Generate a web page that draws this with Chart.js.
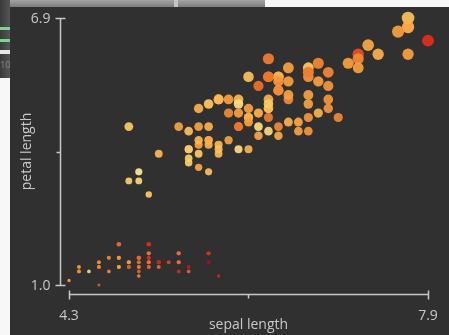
<!DOCTYPE html>
<html>
<head>
    <script src="https://cdn.jsdelivr.net/npm/chart.js@4/dist/chart.umd.min.js"></script>
    <title>Iris: sepal length vs petal length</title>
    <style>
        body { margin: 0; background: #f7f7f7; width: 449px; height: 335px; overflow: hidden; position: relative; font-family: "Open Sans", sans-serif; }
        .topstrip { position: absolute; left: 0; top: 0; width: 265px; height: 7px; background: linear-gradient(#a4a4a4, #7c7c7c); }
        .topstrip .mark { position: absolute; left: 174px; top: 0; width: 4px; height: 7px; background: #c4c4c4; }
        .sidestrip { position: absolute; left: 0; top: 0; width: 10px; height: 78px; background: linear-gradient(90deg, #3a3a3a, #555); }
        .sidestrip .g { position: absolute; left: 0; width: 10px; height: 3px; background: #7fd48a; }
        .sidestrip .w { position: absolute; left: 0; top: 50px; width: 10px; height: 4px; background: #e8e8e8; }
        .sidestrip .t { position: absolute; left: 0; top: 58px; font-size: 9px; color: #888; }
        #panel { position: absolute; left: 10px; top: 7px; width: 439px; height: 328px; background: #303030; }
    </style>
</head>
<body>
    <div class="topstrip"><div class="mark"></div></div>
    <div class="sidestrip">
        <div class="g" style="top: 27px"></div>
        <div class="g" style="top: 39px"></div>
        <div class="w"></div>
        <div class="t">10</div>
    </div>
    <div id="panel">
        <canvas id="iris" width="439" height="328"></canvas>
    </div>

    <script>
    // iris measurements (setosa, versicolor, virginica - 50 rows each)
    const sepalLength = [
        5.1,4.9,4.7,4.6,5.0,5.4,4.6,5.0,4.4,4.9, 5.4,4.8,4.8,4.3,5.8,5.7,5.4,5.1,5.7,5.1,
        5.4,5.1,4.6,5.1,4.8,5.0,5.0,5.2,5.2,4.7, 4.8,5.4,5.2,5.5,4.9,5.0,5.5,4.9,4.4,5.1,
        5.0,4.5,4.4,5.0,5.1,4.8,5.1,4.6,5.3,5.0,
        7.0,6.4,6.9,5.5,6.5,5.7,6.3,4.9,6.6,5.2, 5.0,5.9,6.0,6.1,5.6,6.7,5.6,5.8,6.2,5.6,
        5.9,6.1,6.3,6.1,6.4,6.6,6.8,6.7,6.0,5.7, 5.5,5.5,5.8,6.0,5.4,6.0,6.7,6.3,5.6,5.5,
        5.5,6.1,5.8,5.0,5.6,5.7,5.7,6.2,5.1,5.7,
        6.3,5.8,7.1,6.3,6.5,7.6,4.9,7.3,6.7,7.2, 6.5,6.4,6.8,5.7,5.8,6.4,6.5,7.7,7.7,6.0,
        6.9,5.6,7.7,6.3,6.7,7.2,6.2,6.1,6.4,7.2, 7.4,7.9,6.4,6.3,6.1,7.7,6.3,6.4,6.0,6.9,
        6.7,6.9,5.8,6.8,6.7,6.7,6.3,6.5,6.2,5.9
    ];
    const sepalWidth = [
        3.5,3.0,3.2,3.1,3.6,3.9,3.4,3.4,2.9,3.1, 3.7,3.4,3.0,3.0,4.0,4.4,3.9,3.5,3.8,3.8,
        3.4,3.7,3.6,3.3,3.4,3.0,3.4,3.5,3.4,3.2, 3.1,3.4,4.1,4.2,3.1,3.2,3.5,3.6,3.0,3.4,
        3.5,2.3,3.2,3.5,3.8,3.0,3.8,3.2,3.7,3.3,
        3.2,3.2,3.1,2.3,2.8,2.8,3.3,2.4,2.9,2.7, 2.0,3.0,2.2,2.9,2.9,3.1,3.0,2.7,2.2,2.5,
        3.2,2.8,2.5,2.8,2.9,3.0,2.8,3.0,2.9,2.6, 2.4,2.4,2.7,2.7,3.0,3.4,3.1,2.3,3.0,2.5,
        2.6,3.0,2.6,2.3,2.7,3.0,2.9,2.9,2.5,2.8,
        3.3,2.7,3.0,2.9,3.0,3.0,2.5,2.9,2.5,3.6, 3.2,2.7,3.0,2.5,2.8,3.2,3.0,3.8,2.6,2.2,
        3.2,2.8,2.8,2.7,3.3,3.2,2.8,3.0,2.8,3.0, 2.8,3.8,2.8,2.8,2.6,3.0,3.4,3.1,3.0,3.1,
        3.1,3.1,2.7,3.2,3.3,3.0,2.5,3.0,3.4,3.0
    ];
    const petalLength = [
        1.4,1.4,1.3,1.5,1.4,1.7,1.4,1.5,1.4,1.5, 1.5,1.6,1.4,1.1,1.2,1.5,1.3,1.4,1.7,1.5,
        1.7,1.5,1.0,1.7,1.9,1.6,1.6,1.5,1.4,1.6, 1.6,1.5,1.5,1.4,1.5,1.2,1.3,1.4,1.3,1.5,
        1.3,1.3,1.3,1.6,1.9,1.4,1.6,1.4,1.5,1.4,
        4.7,4.5,4.9,4.0,4.6,4.5,4.7,3.3,4.6,3.9, 3.5,4.2,4.0,4.7,3.6,4.4,4.5,4.1,4.5,3.9,
        4.8,4.0,4.9,4.7,4.3,4.4,4.8,5.0,4.5,3.5, 3.8,3.7,3.9,5.1,4.5,4.5,4.7,4.4,4.1,4.0,
        4.4,4.6,4.0,3.3,4.2,4.2,4.2,4.3,3.0,4.1,
        6.0,5.1,5.9,5.6,5.8,6.6,4.5,6.3,5.8,6.1, 5.1,5.3,5.5,5.0,5.1,5.3,5.5,6.7,6.9,5.0,
        5.7,4.9,6.7,4.9,5.7,6.0,4.8,4.9,5.6,5.8, 6.1,6.4,5.6,5.1,5.6,6.1,5.6,5.5,4.8,5.4,
        5.6,5.1,5.1,5.9,5.7,5.2,5.0,5.2,5.4,5.1
    ];

    const xTicks = [4.3, 6.1, 7.9];
    const yTicks = [1.0, 3.95, 6.9];
    const xTickLabels = ['4.3', '', '7.9'];
    const yTickLabels = ['1.0', '', '6.9'];
    const xTitle = 'sepal length';
    const yTitle = 'petal length';

    // sepal width -> yellow .. red
    const colorStops = [
        [2.0, [254, 232, 150]],
        [2.5, [253, 200, 96]],
        [3.0, [248, 160, 62]],
        [3.4, [240, 112, 42]],
        [3.8, [228, 45, 30]],
        [4.4, [180, 8, 35]]
    ];
    function widthColor(w) {
        let i = 0;
        while (i < colorStops.length - 2 && w > colorStops[i + 1][0]) i++;
        const [a, ca] = colorStops[i], [b, cb] = colorStops[i + 1];
        let t = (w - a) / (b - a);
        t = Math.max(0, Math.min(1, t));
        const c = ca.map((v, k) => Math.round(v + (cb[k] - v) * t));
        return 'rgba(' + c[0] + ',' + c[1] + ',' + c[2] + ',0.93)';
    }

    const points = sepalLength.map((x, i) => ({ x: x, y: petalLength[i] }));

    const axisColor = '#c8c8c8';
    const labelFont = '14px "Open Sans"';

    // range-frame style axes drawn from the chart's own scales
    const frameAxes = {
        id: 'frameAxes',
        afterDraw(chart) {
            const c = chart.ctx, xs = chart.scales.x, ys = chart.scales.y;
            const axisY = Math.round(ys.getPixelForValue(yTicks[0])) + 9.5;
            const axisX = Math.round(xs.getPixelForValue(xTicks[0])) - 8.5;
            c.save();
            c.strokeStyle = axisColor;
            c.lineWidth = 1.5;

            // x axis
            const x0 = xs.getPixelForValue(xTicks[0]), x1 = xs.getPixelForValue(xTicks[xTicks.length - 1]);
            c.beginPath();
            c.moveTo(x0, axisY); c.lineTo(x1, axisY);
            xTicks.forEach((v, i) => {
                const px = Math.round(xs.getPixelForValue(v)) + 0.5;
                if (i === 0 || i === xTicks.length - 1) { c.moveTo(px, axisY - 4); c.lineTo(px, axisY + 5); }
                else { c.moveTo(px, axisY); c.lineTo(px, axisY + 4); }
            });
            // y axis
            const y0 = ys.getPixelForValue(yTicks[0]), y1 = ys.getPixelForValue(yTicks[yTicks.length - 1]);
            c.moveTo(axisX, y0); c.lineTo(axisX, y1);
            yTicks.forEach((v, i) => {
                const py = Math.round(ys.getPixelForValue(v)) + 0.5;
                if (i === 0 || i === yTicks.length - 1) { c.moveTo(axisX - 5, py); c.lineTo(axisX + 5, py); }
                else { c.moveTo(axisX - 4, py); c.lineTo(axisX, py); }
            });
            c.stroke();

            c.fillStyle = axisColor;
            c.font = labelFont;
            c.textBaseline = 'middle';
            c.textAlign = 'center';
            xTicks.forEach((v, i) => c.fillText(xTickLabels[i], xs.getPixelForValue(v), axisY + 22));
            c.textAlign = 'right';
            yTicks.forEach((v, i) => c.fillText(yTickLabels[i], axisX - 10, ys.getPixelForValue(v) + 1));

            c.textAlign = 'center';
            c.fillText(xTitle, (x0 + x1) / 2, axisY + 31);
            c.translate(17, (y0 + y1) / 2);
            c.rotate(-Math.PI / 2);
            c.fillText(yTitle, 0, 0);
            c.restore();
        }
    };

    new Chart(document.getElementById('iris'), {
        type: 'scatter',
        data: {
            datasets: [{
                data: points,
                backgroundColor: ctx => widthColor(sepalWidth[ctx.dataIndex]),
                pointRadius: ctx => 0.8 + 0.8 * petalLength[ctx.dataIndex],
                borderWidth: 0,
                clip: false
            }]
        },
        options: {
            responsive: false,
            animation: false,
            devicePixelRatio: 1,
            layout: { padding: { left: 59, right: 21, top: 11, bottom: 50 } },
            scales: {
                x: { type: 'linear', min: 4.3, max: 7.9, display: false },
                y: { type: 'linear', min: 1.0, max: 6.9, display: false }
            },
            plugins: {
                legend: { display: false },
                tooltip: { enabled: false }
            }
        },
        plugins: [frameAxes]
    });
    </script>
</body>
</html>
